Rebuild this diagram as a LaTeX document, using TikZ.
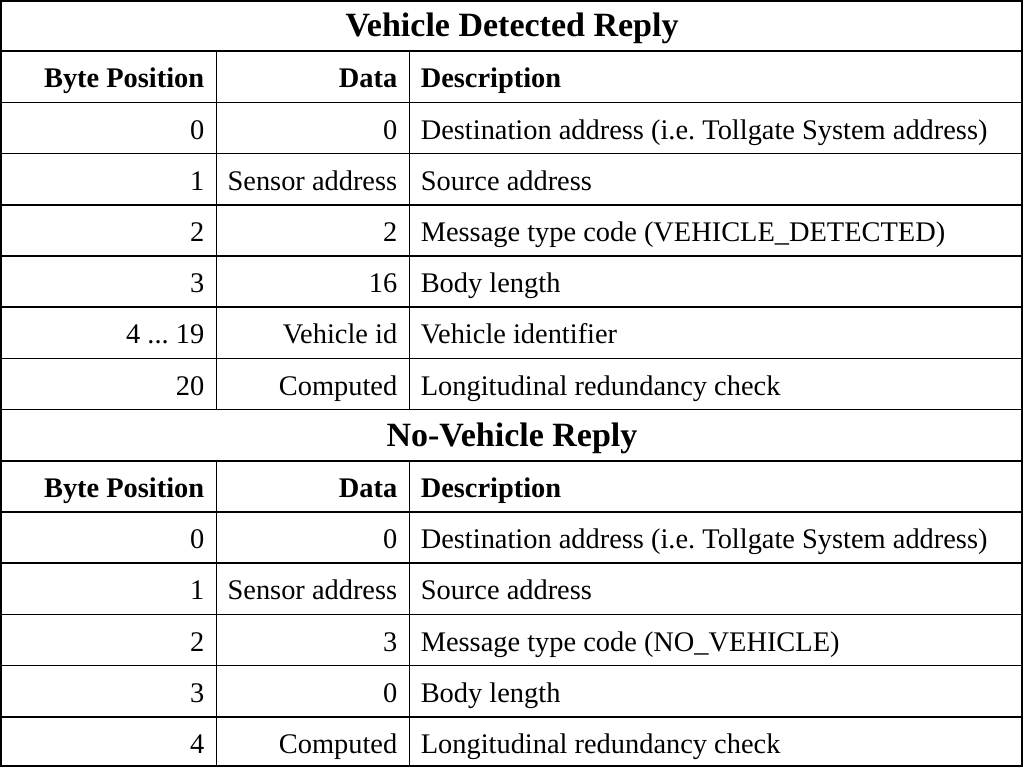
\documentclass[tikz,border=0pt]{standalone}
\usepackage{fontspec}
\setmainfont{Liberation Serif}
\frenchspacing
\newcommand\vidrange{4 ... 19}
\tikzset{
  cell/.style={inner sep=0pt, font=\fontsize{28.4}{34}\selectfont},
  headcell/.style={inner sep=0pt, font=\fontsize{28.4}{34}\selectfont\bfseries},
  titlecell/.style={inner sep=0pt, font=\fontsize{34}{40}\selectfont\bfseries},
}
\begin{document}
\begin{tikzpicture}[x=1pt,y=-1pt,line width=1.6pt]
        \useasboundingbox (0,0) rectangle (1024,768);
        \draw (1,1) rectangle (1022,766);
        \foreach \r in {1,...,14}{
            \draw (1,51.2*\r) -- (1022,51.2*\r);
        }
        \draw (216.5,51.2) -- (216.5,409.6) (409.5,51.2) -- (409.5,409.6);
        \draw (216.5,460.8) -- (216.5,766) (409.5,460.8) -- (409.5,766);
        % titles
        \node[titlecell,anchor=base] (vdtitle) at (512,36.6) {Vehicle Detected Reply};
        \node[titlecell,anchor=base] (nvtitle) at (512,51.2*8+36.6) {No-Vehicle Reply};
        % headers
        \foreach \h in {1,9}{
            \node[headcell,anchor=base east] (pos\h) at (205,51.2*\h+36.6) {Byte Position};
            \node[headcell,anchor=base east] (dat\h) at (398,51.2*\h+36.6) {Data};
            \node[headcell,anchor=base west] (desc\h) at (420,51.2*\h+36.6) {Description};
        }
        % vehicle detected rows
        \foreach \p/\d/\t [count=\i from 2] in {
            0/0/{Destination address (i.e. Tollgate System address)},
            1/Sensor address/Source address,
            2/2/{Message type code (VEHICLE\_DETECTED)},
            3/16/Body length,
            \vidrange/Vehicle id/Vehicle identifier,
            20/Computed/Longitudinal redundancy check}{
            \node[cell,anchor=base east] (pos\i) at (205,51.2*\i+36.6) {\p};
            \node[cell,anchor=base east] (dat\i) at (398,51.2*\i+36.6) {\d};
            \node[cell,anchor=base west] (desc\i) at (420,51.2*\i+36.6) {\t};
        }
        % no vehicle rows
        \foreach \p/\d/\t [count=\i from 10] in {
            0/0/{Destination address (i.e. Tollgate System address)},
            1/Sensor address/Source address,
            2/3/{Message type code (NO\_VEHICLE)},
            3/0/Body length,
            4/Computed/Longitudinal redundancy check}{
            \node[cell,anchor=base east] (pos\i) at (205,51.2*\i+36.6) {\p};
            \node[cell,anchor=base east] (dat\i) at (398,51.2*\i+36.6) {\d};
            \node[cell,anchor=base west] (desc\i) at (420,51.2*\i+36.6) {\t};
        }
    \end{tikzpicture}
\end{document}
